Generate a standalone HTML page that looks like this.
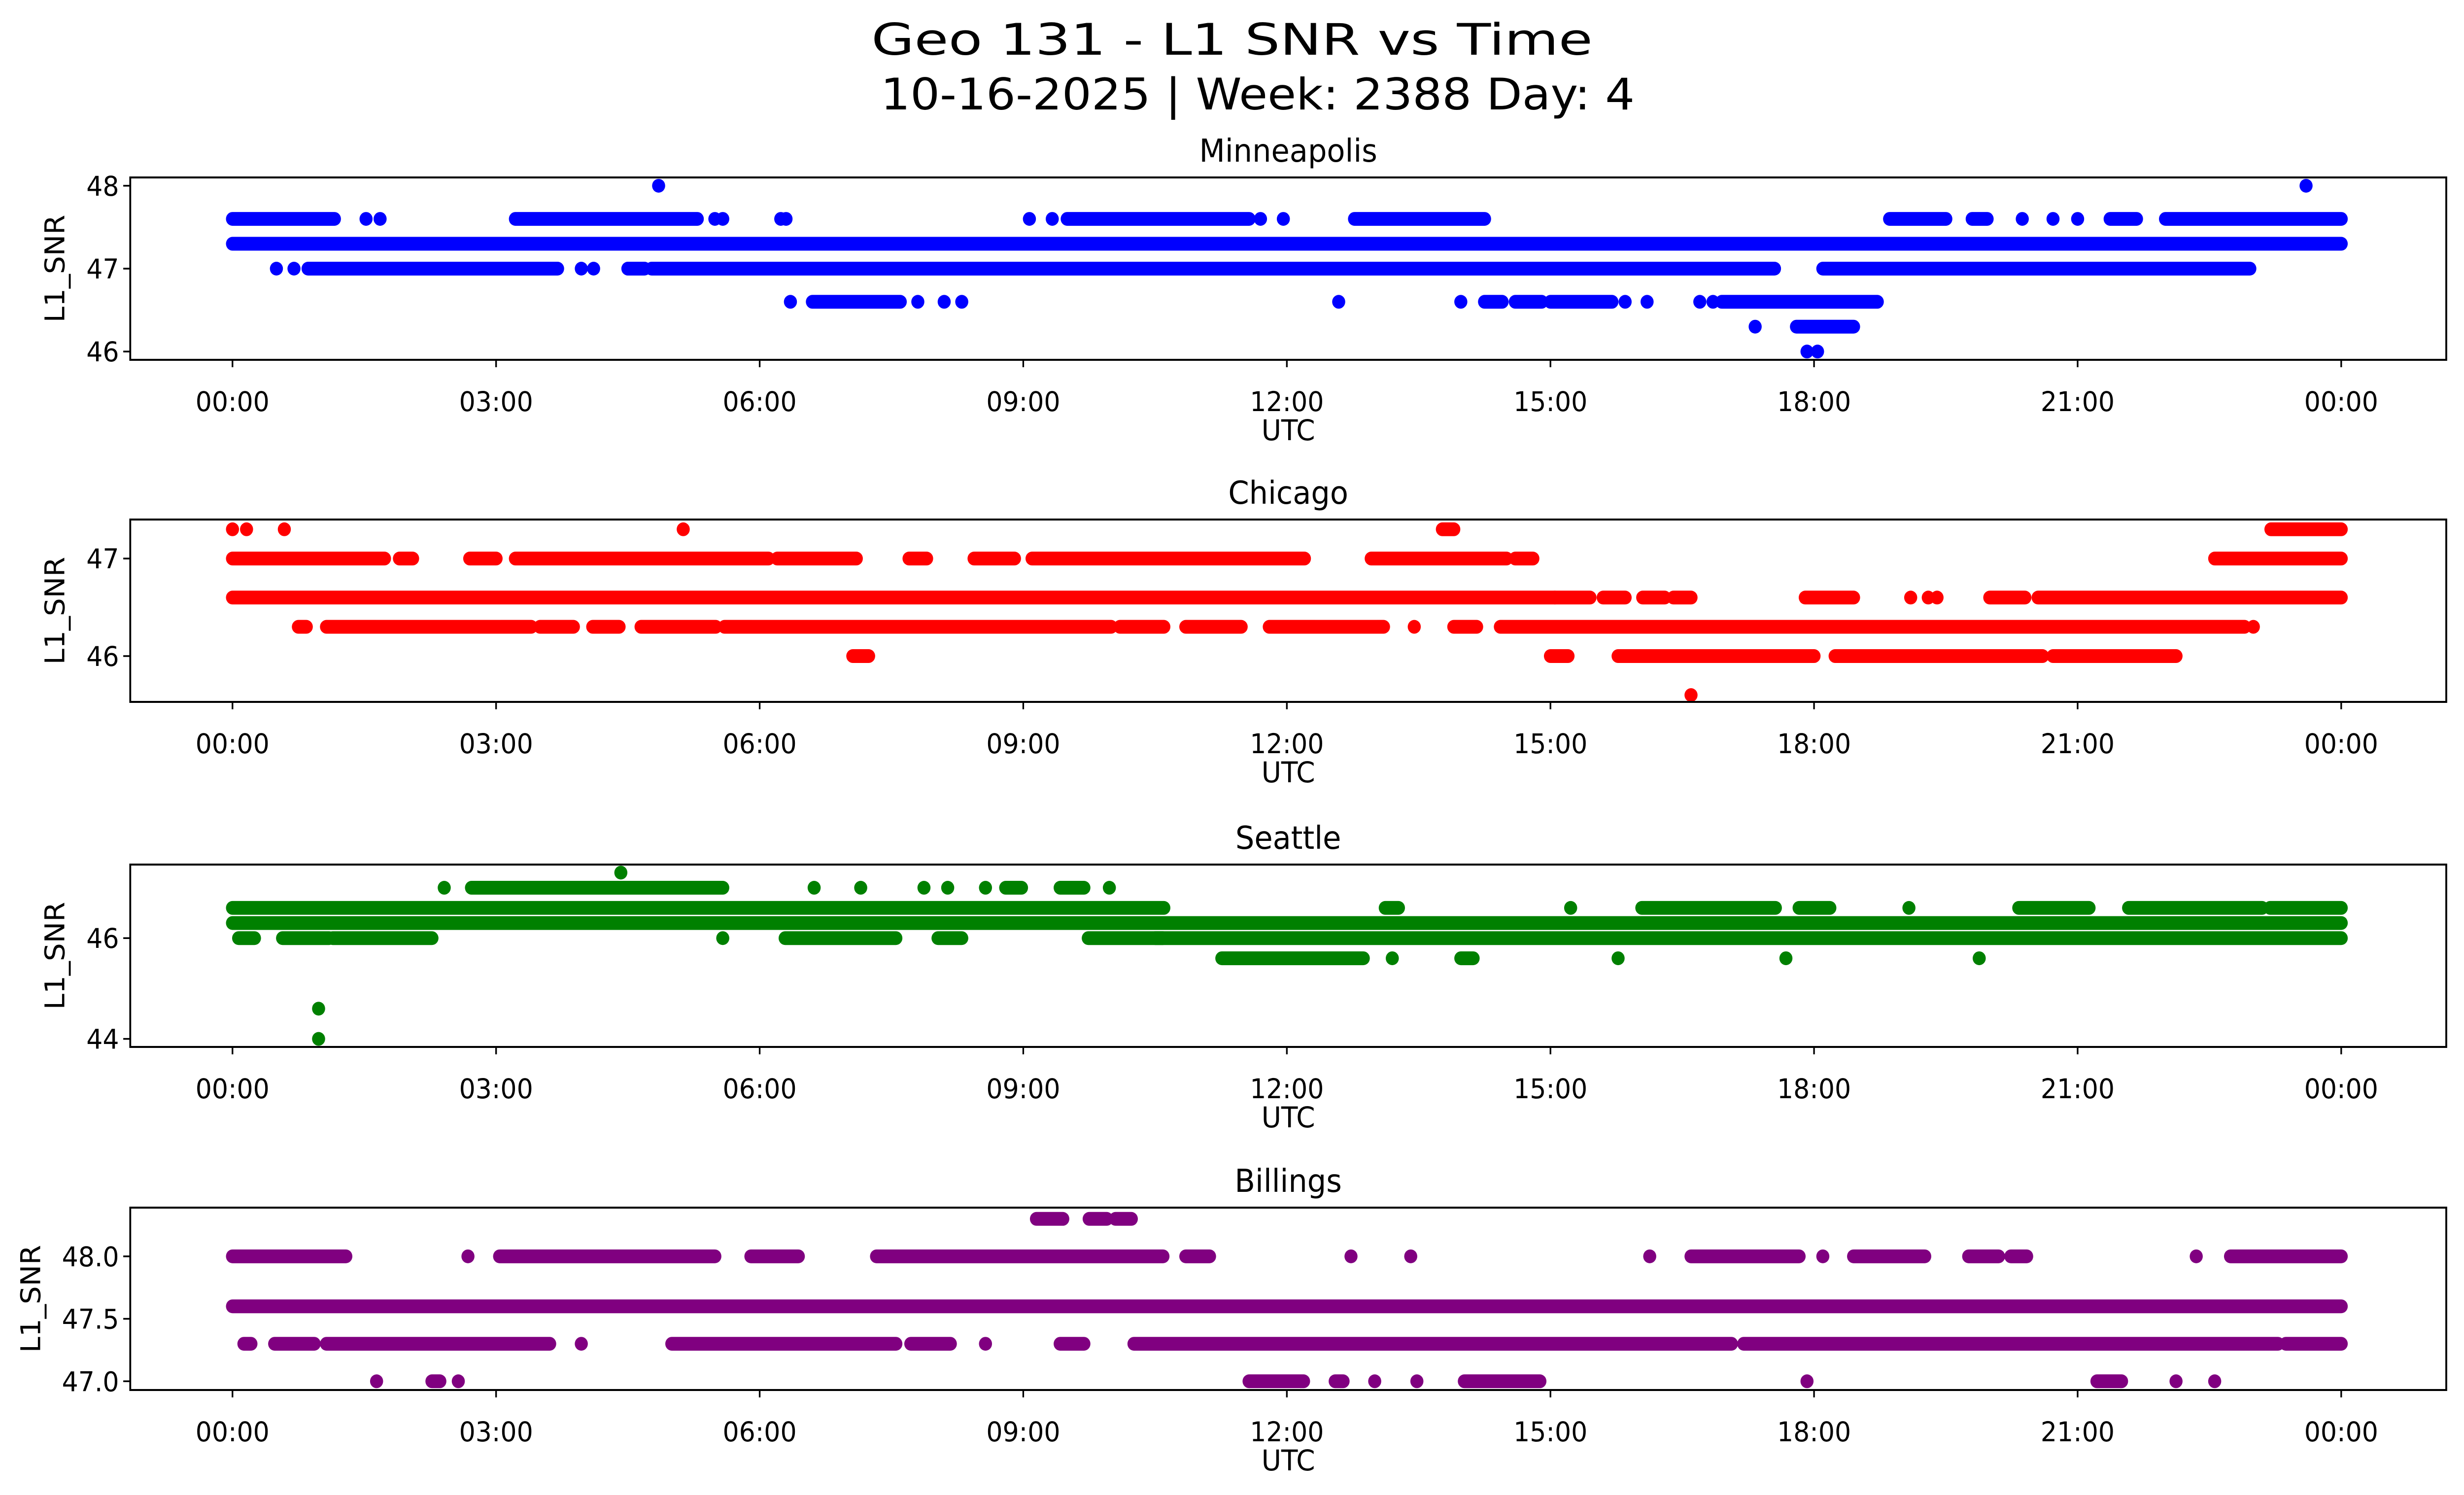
<!DOCTYPE html>
<html><head><meta charset="utf-8"><title>Geo 131 - L1 SNR vs Time</title>
<style>html,body{margin:0;padding:0;background:#fff;overflow:hidden;width:100%;height:100%}svg{display:block;width:100vw;height:100vh}text{font-family:"DejaVu Sans","Liberation Sans",sans-serif;fill:#000}</style>
</head><body>
<svg id="fig" xmlns="http://www.w3.org/2000/svg" viewBox="0 0 5278 3033" preserveAspectRatio="none">
<rect x="0" y="0" width="5278" height="3033" fill="#fff"/>
<text x="2639" y="111" text-anchor="middle" font-size="88" textLength="1545" lengthAdjust="spacingAndGlyphs">Geo 131 - L1 SNR vs Time</text>
<text x="2694" y="222" text-anchor="middle" font-size="88" textLength="1615" lengthAdjust="spacingAndGlyphs">10-16-2025 | Week: 2388 Day: 4</text>
<g id="plots"></g>
</svg>
<script>
// ---- Data (hours UTC; runs = dense intervals [level,start,end], pts = isolated samples [level,hour]) ----
const hourTicks = [0, 3, 6, 9, 12, 15, 18, 21, 24];
const hourTickLabels = ["00:00","03:00","06:00","09:00","12:00","15:00","18:00","21:00","00:00"];

const cities = ["Minneapolis", "Chicago", "Seattle", "Billings"];
const colors = ["#0000ff", "#ff0000", "#008000", "#800080"];

const mplsYTicks = [46, 47, 48];
const mplsYTickLabels = ["46", "47", "48"];
const mplsRange = [45.9, 48.1];
const mplsRuns = [
  [47.3, 0, 24],
  [47.6, 0, 1.16], [47.6, 3.22, 5.29], [47.6, 9.5, 11.57], [47.6, 12.77, 14.25],
  [47.6, 18.86, 19.5], [47.6, 19.8, 19.97], [47.6, 21.37, 21.67], [47.6, 22.0, 24],
  [47.0, 0.86, 3.7], [47.0, 4.5, 4.69], [47.0, 4.77, 17.55], [47.0, 18.1, 22.96],
  [46.6, 6.6, 7.6], [46.6, 14.25, 14.45], [46.6, 14.6, 14.9], [46.6, 15.0, 15.7], [46.6, 16.95, 18.72],
  [46.3, 17.8, 18.45]
];
const mplsPts = [
  [47.6, 1.52], [47.6, 1.68], [47.6, 5.49], [47.6, 5.58], [47.6, 6.24], [47.6, 6.3], [47.6, 9.07], [47.6, 9.33],
  [47.6, 11.7], [47.6, 11.96], [47.6, 20.37], [47.6, 20.72], [47.6, 21.0],
  [48.0, 4.85], [48.0, 23.6],
  [47.0, 0.5], [47.0, 0.7], [47.0, 3.97], [47.0, 4.11],
  [46.6, 6.35], [46.6, 7.8], [46.6, 8.1], [46.6, 8.3], [46.6, 12.59], [46.6, 13.98],
  [46.6, 15.85], [46.6, 16.1], [46.6, 16.7], [46.6, 16.85],
  [46.3, 17.33], [46.0, 17.92], [46.0, 18.04]
];

const chiYTicks = [46, 47];
const chiYTickLabels = ["46", "47"];
const chiRange = [45.53, 47.4];
const chiRuns = [
  [46.6, 0, 15.05], [46.6, 15.05, 15.45], [46.6, 15.6, 15.85], [46.6, 16.05, 16.3], [46.6, 16.4, 16.6],
  [46.6, 17.9, 18.45], [46.6, 20.0, 20.4], [46.6, 20.55, 24],
  [47.0, 0, 1.73], [47.0, 1.9, 2.05], [47.0, 2.7, 3.0], [47.0, 3.22, 6.1], [47.0, 6.2, 7.1],
  [47.0, 7.7, 7.9], [47.0, 8.44, 8.9], [47.0, 9.1, 12.2], [47.0, 12.96, 14.5], [47.0, 14.6, 14.8], [47.0, 22.56, 24],
  [47.3, 13.77, 13.9], [47.3, 23.2, 24],
  [46.3, 0.75, 0.84], [46.3, 1.07, 3.4], [46.3, 3.5, 3.88], [46.3, 4.1, 4.4], [46.3, 4.65, 5.5],
  [46.3, 5.6, 10.0], [46.3, 10.1, 10.6], [46.3, 10.85, 11.48], [46.3, 11.8, 13.1], [46.3, 13.9, 14.16], [46.3, 14.43, 22.9],
  [46.0, 7.06, 7.24], [46.0, 15.0, 15.2], [46.0, 15.77, 18.0], [46.0, 18.24, 20.6], [46.0, 20.72, 22.12]
];
const chiPts = [
  [47.3, 0.0], [47.3, 0.16], [47.3, 0.59], [47.3, 5.13],
  [46.6, 19.1], [46.6, 19.3], [46.6, 19.4],
  [46.3, 13.45], [46.3, 23.0],
  [45.6, 16.6]
];

const seaYTicks = [44, 46];
const seaYTickLabels = ["44", "46"];
const seaRange = [43.84, 47.46];
const seaRuns = [
  [46.6, 0, 10.6], [46.3, 0, 24], [46.0, 10.5, 24],
  [46.6, 13.12, 13.27], [46.6, 16.04, 17.56], [46.6, 17.83, 18.18], [46.6, 20.33, 21.13], [46.6, 21.58, 23.1], [46.6, 23.19, 24],
  [47.0, 2.72, 5.58], [47.0, 8.8, 8.98], [47.0, 9.42, 9.69],
  [46.0, 0.07, 0.25], [46.0, 0.57, 1.1], [46.0, 1.14, 2.27], [46.0, 6.29, 7.55], [46.0, 8.03, 8.3], [46.0, 9.74, 10.59],
  [45.6, 11.26, 12.87], [45.6, 13.98, 14.12]
];
const seaPts = [
  [47.3, 4.42],
  [47.0, 2.41], [47.0, 6.62], [47.0, 7.15], [47.0, 7.87], [47.0, 8.14], [47.0, 8.57], [47.0, 9.98],
  [46.6, 15.23], [46.6, 19.08],
  [46.0, 5.58],
  [45.6, 13.2], [45.6, 15.77], [45.6, 17.68], [45.6, 19.88],
  [44.6, 0.98], [44.0, 0.98]
];

const bilYTicks = [47.0, 47.5, 48.0];
const bilYTickLabels = ["47.0", "47.5", "48.0"];
const bilRange = [46.93, 48.39];
const bilRuns = [
  [47.6, 0, 24],
  [48.0, 0, 1.29], [48.0, 3.04, 5.49], [48.0, 5.9, 6.44], [48.0, 7.33, 10.59], [48.0, 10.85, 11.12],
  [48.0, 16.6, 17.83], [48.0, 18.45, 19.26], [48.0, 19.76, 20.1], [48.0, 20.24, 20.42], [48.0, 22.74, 24],
  [48.3, 9.15, 9.45], [48.3, 9.75, 9.95], [48.3, 10.05, 10.23],
  [47.3, 0.13, 0.21], [47.3, 0.48, 0.93], [47.3, 1.07, 3.61], [47.3, 5.0, 7.55], [47.3, 7.72, 8.17],
  [47.3, 9.42, 9.69], [47.3, 10.26, 17.06], [47.3, 17.2, 23.28], [47.3, 23.37, 24],
  [47.0, 2.27, 2.36], [47.0, 11.57, 12.19], [47.0, 12.55, 12.64], [47.0, 14.02, 14.88], [47.0, 21.22, 21.5]
];
const bilPts = [
  [48.0, 2.68], [48.0, 12.73], [48.0, 13.41], [48.0, 16.13], [48.0, 18.1], [48.0, 22.35],
  [47.3, 3.97], [47.3, 8.57],
  [47.0, 1.64], [47.0, 2.57], [47.0, 13.0], [47.0, 13.48], [47.0, 17.92], [47.0, 22.12], [47.0, 22.56]
];

// ---- Layout ----
const NS = "http://www.w3.org/2000/svg";
const AX_L = 279, AX_R = 5240;
const X0 = 498, X24 = 5015;
const panelTops = [360, 1054, 1754, 2450];
const PANEL_H = 370;
const R = 14;
const xScale = h => X0 + (X24 - X0) * h / 24;

const panels = [
  {runs: mplsRuns, pts: mplsPts, range: mplsRange, ticks: mplsYTicks, labels: mplsYTickLabels},
  {runs: chiRuns, pts: chiPts, range: chiRange, ticks: chiYTicks, labels: chiYTickLabels},
  {runs: seaRuns, pts: seaPts, range: seaRange, ticks: seaYTicks, labels: seaYTickLabels},
  {runs: bilRuns, pts: bilPts, range: bilRange, ticks: bilYTicks, labels: bilYTickLabels}
];

function mk(tag, attrs, parent) {
  const e = document.createElementNS(NS, tag);
  for (const k in attrs) e.setAttribute(k, attrs[k]);
  parent.appendChild(e);
  return e;
}

const root = document.getElementById("plots");
panels.forEach((p, i) => {
  const top = panelTops[i], bot = top + PANEL_H;
  const yScale = v => bot - (v - p.range[0]) / (p.range[1] - p.range[0]) * PANEL_H;
  const slug = cities[i].toLowerCase();
  const g = mk("g", {}, root);
  
  

  const title = mk("text", {x: (AX_L + AX_R) / 2, y: top - 32, "text-anchor": "middle", "font-size": 64}, g);
  title.textContent = cities[i];
  
  

  const marks = mk("g", {fill: colors[i], stroke: colors[i]}, g);
  
  
  p.runs.forEach(r => {
    const ln = mk("line", {x1: xScale(r[1]), x2: xScale(r[2]), y1: yScale(r[0]), y2: yScale(r[0]), "stroke-width": 2 * R, "stroke-linecap": "round"}, marks);
    
    
  });
  p.pts.forEach(pt => {
    const c = mk("circle", {cx: xScale(pt[1]), cy: yScale(pt[0]), r: R, stroke: "none"}, marks);
    
    
  });

  const frame = mk("rect", {x: AX_L, y: top, width: AX_R - AX_L, height: PANEL_H, fill: "none", stroke: "#000", "stroke-width": 4}, g);
  
  

  hourTicks.forEach((h, k) => {
    const x = xScale(h);
    const t = mk("line", {x1: x, x2: x, y1: bot, y2: bot + 15, stroke: "#000", "stroke-width": 3.5}, g);
    
    
    const lb = mk("text", {x: x, y: bot + 104, "text-anchor": "middle", "font-size": 55}, g);
    lb.textContent = hourTickLabels[k];
    
    
  });
  p.ticks.forEach((v, k) => {
    const y = yScale(v);
    const t = mk("line", {x1: AX_L - 15, x2: AX_L, y1: y, y2: y, stroke: "#000", "stroke-width": 3.5}, g);
    
    
    const lb = mk("text", {x: AX_L - 24, y: y + 20, "text-anchor": "end", "font-size": 55}, g);
    lb.textContent = p.labels[k];
    
    
  });

  const xl = mk("text", {x: (AX_L + AX_R) / 2, y: bot + 163, "text-anchor": "middle", "font-size": 58}, g);
  xl.textContent = "UTC";
  
  
  const yl = mk("text", {x: 0, y: 0, "text-anchor": "middle", "font-size": 58, transform: `translate(${i === 3 ? 86 : 138},${(top + bot) / 2}) rotate(-90)`}, g);
  yl.textContent = "L1_SNR";
  
  
});
</script>
</body></html>
